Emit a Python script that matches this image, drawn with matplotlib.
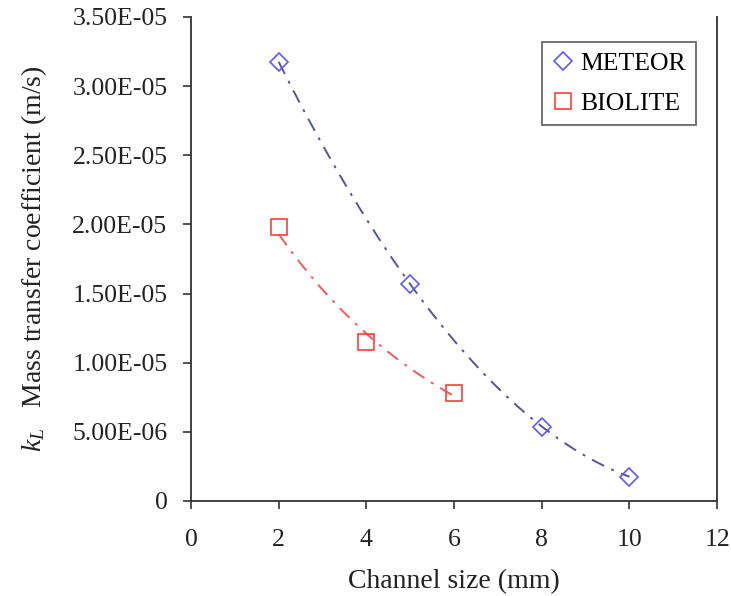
import numpy as np
import matplotlib
matplotlib.use("Agg")
import matplotlib.pyplot as plt
from matplotlib.ticker import FuncFormatter, MultipleLocator

plt.rcParams['font.family'] = ['Liberation Serif', 'DejaVu Serif']
plt.rcParams['mathtext.fontset'] = 'custom'
plt.rcParams['mathtext.rm'] = 'Liberation Serif'
plt.rcParams['mathtext.it'] = 'Liberation Serif:italic'

meteor_x = [2, 5, 8, 10]
meteor_y = [3.175e-5, 1.569e-5, 5.37e-6, 1.76e-6]
biolite_x = [2, 4, 6]
biolite_y = [1.98e-5, 1.15e-5, 7.79e-6]

fig = plt.figure(figsize=(7.31, 5.96), dpi=100)
ax = fig.add_axes([0.2613, 0.1594, 0.7197, 0.8121])

def poly_fit(x, y, deg=2):
    c = np.polyfit(np.array(x, float), np.array(y), deg)
    xs = np.linspace(min(x), max(x), 200)
    return xs, np.polyval(c, xs)

def exp_fit(x, y):
    b, a = np.polyfit(np.array(x, float), np.log(np.array(y)), 1)
    xs = np.linspace(min(x), max(x), 200)
    return xs, np.exp(a + b * xs)

dash = (0, (7, 4, 1.5, 4))
xs, ys = poly_fit(meteor_x, meteor_y)
ax.plot(xs, ys, color='#55559a', lw=1.4, ls=dash, zorder=2)
xs, ys = exp_fit(biolite_x, biolite_y)
ax.plot(xs, ys, color='#f05a5a', lw=1.4, ls=dash, zorder=2)

ax.plot(meteor_x, meteor_y, ls='none', marker='D', ms=9.5, mfc='none',
        mec='#5a5aff', mew=1.2, label='METEOR', zorder=3)
ax.plot(biolite_x, biolite_y, ls='none', marker='s', ms=11.5, mfc='none',
        mec='#ff3c3c', mew=1.2, label='BIOLITE', zorder=3)

ax.set_xlim(0, 12)
ax.set_ylim(0, 3.5e-5)
ax.xaxis.set_major_locator(MultipleLocator(2))
ax.yaxis.set_major_locator(MultipleLocator(5e-6))

def yfmt(v, pos):
    if abs(v) < 1e-12:
        return '0'
    return '%.2E' % v
ax.yaxis.set_major_formatter(FuncFormatter(yfmt))

ax.spines['top'].set_visible(False)
for s in ['left', 'right', 'bottom']:
    ax.spines[s].set_color('#333333')
    ax.spines[s].set_linewidth(1.3)
ax.tick_params(direction='out', length=6, width=1.2, color='#333333',
               labelsize=18.5, labelcolor='#222222')
ax.tick_params(axis='x', pad=14)
ax.tick_params(axis='y', pad=11)

ax.set_xlabel('Channel size (mm)', fontsize=20, color='#222222', labelpad=13)
ax.set_ylabel(r'$k_L$   Mass transfer coefficient (m/s)', fontsize=20,
              color='#222222', labelpad=17)

leg = ax.legend(loc='upper right', bbox_to_anchor=(0.96, 0.948), fontsize=18.5,
                frameon=True, fancybox=False, handletextpad=0.2,
                handlelength=0.9, borderpad=0.4, labelspacing=0.65,
                borderaxespad=0)
leg.get_frame().set_edgecolor('#444444')
leg.get_frame().set_linewidth(1.3)

fig.savefig('out.png', dpi=100)
